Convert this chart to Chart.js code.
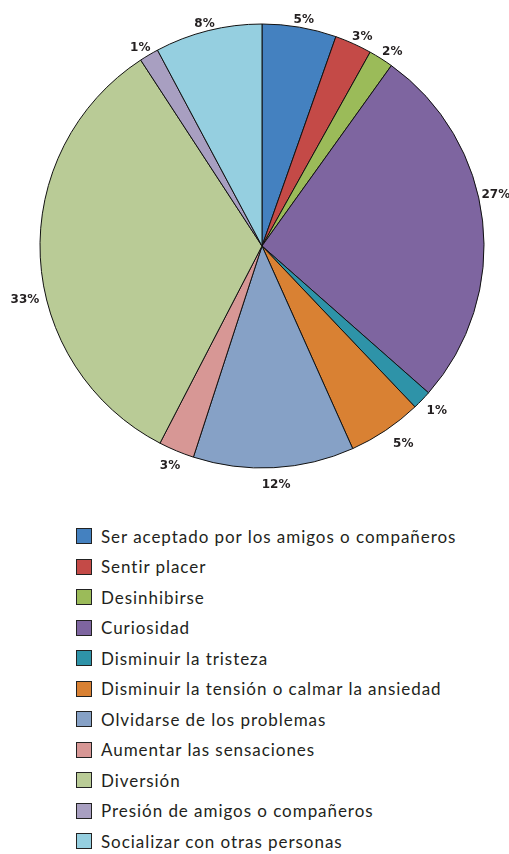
<!DOCTYPE html>
<html>
<head>
<meta charset="utf-8">
<script src="https://cdn.jsdelivr.net/npm/chart.js@4/dist/chart.umd.min.js"></script>
<style>
  body { margin: 0; background: #fff; width: 509px; height: 854px; overflow: hidden; }
  #wrap { position: relative; width: 509px; height: 492px; }
  #legend { list-style: none; margin: 0; padding: 0; position: absolute; left: 76px; top: 521px; font-family: Lato, "Open Sans", sans-serif; font-size: 17px; letter-spacing: 0.95px; color: #231f20; }
  #legend li { height: 30.5px; display: flex; align-items: center; }
  #legend span.box { width: 14px; height: 14px; border: 1px solid #222; margin-right: 9px; flex: none; }
</style>
</head>
<body>
<div id="wrap"><canvas id="pie"></canvas></div>
<ul id="legend"></ul>
<script>
const categories = [
  "Ser aceptado por los amigos o compañeros",
  "Sentir placer",
  "Desinhibirse",
  "Curiosidad",
  "Disminuir la tristeza",
  "Disminuir la tensión o calmar la ansiedad",
  "Olvidarse de los problemas",
  "Aumentar las sensaciones",
  "Diversión",
  "Presión de amigos o compañeros",
  "Socializar con otras personas"
];
const values = [5.4, 2.7, 1.8, 26.6, 1.4, 5.4, 11.7, 2.6, 33.2, 1.4, 7.8];
const colors = [
  "#4481c0", "#c44a47", "#9bbb59", "#7e65a0", "#2e93a8", "#d98133",
  "#86a1c6", "#d79795", "#b9cb96", "#a89fc1", "#95cfe0"
];

// percent labels outside the slices
const outsideLabels = {
  id: "outsideLabels",
  afterDatasetsDraw(chart, args, opts) {
    const ctx = chart.ctx;
    const arcs = chart.getDatasetMeta(0).data;
    ctx.save();
    ctx.font = "bold 12px 'DejaVu Sans', sans-serif";
    ctx.fillStyle = "#231f20";
    ctx.textAlign = "center";
    ctx.textBaseline = "middle";
    arcs.forEach((arc, i) => {
      const mid = (arc.startAngle + arc.endAngle) / 2;
      const cx = Math.cos(mid), sy = Math.sin(mid);
      const text = Math.round(values[i]) + "%";
      const w = ctx.measureText(text).width;
      const n = opts.nudge[i] || [0, 0];
      const x = arc.x + cx * (arc.outerRadius + 9) + cx * w / 2 + 1 + n[0];
      const y = arc.y + sy * (arc.outerRadius + 12) + 5 * sy * sy + n[1];
      ctx.fillText(text, x, y);
    });
    ctx.restore();
  }
};

new Chart(document.getElementById("pie"), {
  type: "pie",
  data: {
    labels: categories,
    datasets: [{
      data: values,
      backgroundColor: colors,
      borderColor: "#111",
      borderWidth: 1,
      radius: 222
    }]
  },
  options: {
    responsive: true,
    maintainAspectRatio: false,
    animation: false,
    layout: { padding: { left: 15 } },
    plugins: {
      legend: { display: false },
      tooltip: { enabled: false },
      outsideLabels: { nudge: { 3: [-11, -25], 5: [6, 0], 8: [7, 42] } }
    }
  },
  plugins: [outsideLabels]
});

const legend = document.getElementById("legend");
categories.forEach((c, i) => {
  const li = document.createElement("li");
  const box = document.createElement("span");
  box.className = "box";
  box.style.background = colors[i];
  li.appendChild(box);
  li.appendChild(document.createTextNode(c));
  legend.appendChild(li);
});
</script>
</body>
</html>
